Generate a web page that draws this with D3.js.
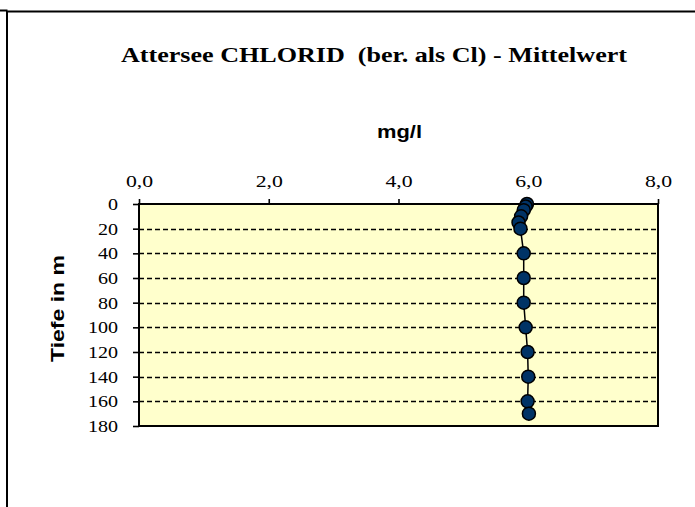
<!DOCTYPE html>
<html><head><meta charset="utf-8">
<script src="https://cdn.jsdelivr.net/npm/d3@7"></script>
<style>body{margin:0;background:#fff}svg{display:block}</style>
</head><body>
<script>
const depths = [0, 2, 5, 10, 15, 20, 40, 60, 80, 100, 120, 140, 160, 170];
const values = [5.98, 5.96, 5.93, 5.89, 5.85, 5.88, 5.93, 5.93, 5.93, 5.96, 5.99, 6.0, 5.99, 6.01];
const xTicks = [0, 2, 4, 6, 8];
const yTicks = [0, 20, 40, 60, 80, 100, 120, 140, 160, 180];
const title = "Attersee CHLORID  (ber. als Cl) - Mittelwert";
const xTitle = "mg/l";
const yTitle = "Tiefe in m";

const W = 695, H = 507;
const svg = d3.select("body").append("svg").attr("width", W).attr("height", H);

// outer frame
svg.append("path").attr("d", "M0,10.5H7.5M7,11.5H695M7,11V507").attr("stroke", "#000").attr("stroke-width", 2).attr("fill", "none");

const L = 139, R = 658, T = 204, B = 426;
const x = d3.scaleLinear().domain([0, 8]).range([L, R]);
const y = d3.scaleLinear().domain([0, 180]).range([T, B]);

svg.append("rect").attr("x", L).attr("y", T).attr("width", R - L).attr("height", B - T).attr("fill", "#FFFFCC");

// gridlines
svg.append("g").selectAll("line").data(yTicks.slice(1, -1)).join("line")
  .attr("x1", L).attr("x2", R).attr("y1", d => Math.round(y(d)) + 0.5).attr("y2", d => Math.round(y(d)) + 0.5)
  .attr("stroke", "#000").attr("stroke-width", 1.6).attr("stroke-dasharray", "5,3");

// axes
const serif = "'Liberation Serif','Times New Roman',serif";
const sans = "'Liberation Sans',Arial,sans-serif";
const fmt = d3.format(".1f");
const xa = svg.append("g").attr("transform", `translate(0,${T})`)
  .call(d3.axisTop(x).tickValues(xTicks).tickSize(5).tickPadding(12).tickFormat(d => fmt(d).replace(".", ",")));
const ya = svg.append("g").attr("transform", `translate(${L},0)`)
  .call(d3.axisLeft(y).tickValues(yTicks).tickSize(6));
[xa, ya].forEach(a => {
  a.select(".domain").remove();
  a.selectAll("line").attr("stroke", "#000").attr("stroke-width", 1.6);
  a.selectAll("text").attr("font-family", serif).attr("font-size", 17).attr("fill", "#000");
});
xa.selectAll("text").attr("transform", "scale(1.28,1)");
ya.selectAll("text").attr("x", -21 / 1.18).attr("transform", "scale(1.18,1)");

// plot border
svg.append("rect").attr("x", L).attr("y", T).attr("width", R - L).attr("height", B - T)
  .attr("fill", "none").attr("stroke", "#000").attr("stroke-width", 2);

// line & markers
const pts = depths.map((d, i) => ({ d, v: values[i] }));
svg.append("path").datum(pts).attr("fill", "none").attr("stroke", "#000").attr("stroke-width", 1.5)
  .attr("d", d3.line().x(p => x(p.v)).y(p => y(p.d)));
svg.append("g").selectAll("circle").data(pts).join("circle")
  .attr("cx", p => x(p.v)).attr("cy", p => y(p.d)).attr("r", 6.5)
  .attr("fill", "#003366").attr("stroke", "#000").attr("stroke-width", 1.5);

// titles
svg.append("text").attr("x", 121).attr("y", 62)
  .attr("font-family", serif).attr("font-weight", "bold").attr("font-size", 20)
  .attr("textLength", 506).attr("lengthAdjust", "spacingAndGlyphs")
  .style("white-space", "pre").text(title);
svg.append("text").attr("x", 377).attr("y", 138)
  .attr("font-family", sans).attr("font-weight", "bold").attr("font-size", 19)
  .attr("textLength", 45).attr("lengthAdjust", "spacingAndGlyphs").text(xTitle);
svg.append("text").attr("transform", "translate(64,362) rotate(-90)")
  .attr("font-family", sans).attr("font-weight", "bold").attr("font-size", 19)
  .attr("textLength", 107).attr("lengthAdjust", "spacingAndGlyphs").text(yTitle);
</script>
</body></html>
